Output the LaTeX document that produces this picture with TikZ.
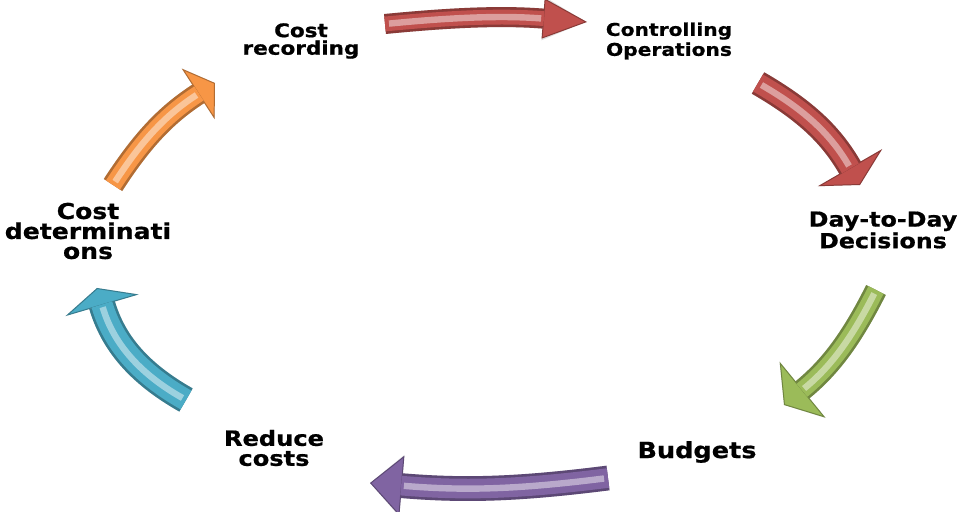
\documentclass[tikz,border=0pt]{standalone}
\usepackage{fontspec}
\newfontfamily\lblfont[FakeStretch=1.15, BoldFeatures={FakeBold=0.8}]{DejaVu Sans}
\usetikzlibrary{arrows.meta}

\definecolor{redarr}{HTML}{C0504D}
\definecolor{greenarr}{HTML}{9BBB59}
\definecolor{purplearr}{HTML}{8064A2}
\definecolor{bluearr}{HTML}{4BACC6}
\definecolor{orangearr}{HTML}{F79646}

\tikzset{
  lbl/.style={align=center, inner sep=0pt,
    font=\lblfont\bfseries\fontsize{#1}{14.2pt}\selectfont},
  band/.style={draw=#1!72!black},
  core/.style={draw=#1},
  shade/.style={draw=black, opacity=0.13, xshift=0.6mm, yshift=-1.5mm},
  shine/.style={line width=1.6mm, white, opacity=0.45, shorten <=1mm}
}

\begin{document}
\begin{tikzpicture}[x=0.025cm, y=0.025cm]
  \useasboundingbox (0,0) rectangle (960,512);

  % % Labels
  \node[lbl=13.3, font=\lblfont\bfseries\fontsize{13.3}{12.5pt}\selectfont] (rec) at (301,471) {Cost\\recording};
  \node[lbl=12.5] (ctrl) at (669,471) {Controlling\\Operations};
  \node[lbl=14.7] (day) at (883,282) {Day-to-Day\\Decisions};
  \node[lbl=15.8] (bud) at (697,60) {Budgets};
  \node[lbl=14.9] (red) at (274,64) {Reduce\\costs};
  \node[lbl=15.5] (det) at (88,281) {Cost\\determinati\\ons};

  % % Arrow ends
  \coordinate (recOut) at (385,488);   \coordinate (ctrlIn) at (587,490);
  \coordinate (ctrlOut) at (758,429);  \coordinate (dayIn) at (860,327);
  \coordinate (dayOut) at (876,222);   \coordinate (budIn) at (784,107);
  \coordinate (budOut) at (608,34);    \coordinate (redIn) at (370,29);
  \coordinate (redOut) at (186,112);   \coordinate (detIn) at (97,224);
  \coordinate (detOut) at (113,327);   \coordinate (recIn) at (215,429);

  % % Cost recording -> Controlling Operations
  \draw[shade, line width=5mm, -{Triangle[length=11mm,width=10mm]}] (recOut) to[bend left=5] (ctrlIn);
  \draw[band=redarr, line width=5mm, -{Triangle[length=11mm,width=10mm,fill=redarr,line width=0.7pt]}] (recOut) to[bend left=5] (ctrlIn);
  \draw[core=redarr, line width=3.7mm, shorten >=10.8mm] (recOut) to[bend left=5] (ctrlIn);
  \draw[shine, shorten >=11.5mm] (recOut) to[bend left=5] (ctrlIn);

  % % Controlling Operations -> Day-to-Day Decisions
  \draw[shade, line width=6.2mm, -{Triangle[length=5mm,width=18.5mm]}] (ctrlOut) to[out=-30, in=120] (dayIn);
  \draw[band=redarr, line width=6.2mm, -{Triangle[length=5mm,width=18.5mm,fill=redarr,line width=0.7pt]}] (ctrlOut) to[out=-30, in=120] (dayIn);
  \draw[core=redarr, line width=4.9mm, shorten >=4.8mm] (ctrlOut) to[out=-30, in=120] (dayIn);
  \draw[shine, shorten >=5.5mm] (ctrlOut) to[out=-30, in=120] (dayIn);

  % % Day-to-Day Decisions -> Budgets
  \draw[shade, line width=5.5mm, -{Triangle[length=6mm,width=18mm]}] (dayOut) to[bend left=12] (budIn);
  \draw[band=greenarr, line width=5.5mm, -{Triangle[length=6mm,width=18mm,fill=greenarr,line width=0.7pt]}] (dayOut) to[bend left=12] (budIn);
  \draw[core=greenarr, line width=4.2mm, shorten >=5.8mm] (dayOut) to[bend left=12] (budIn);
  \draw[shine, shorten >=6.5mm] (dayOut) to[bend left=12] (budIn);

  % % Budgets -> Reduce costs
  \draw[shade, line width=6.2mm, -{Triangle[length=8mm,width=15mm]}] (budOut) to[bend left=6] (redIn);
  \draw[band=purplearr, line width=6.2mm, -{Triangle[length=8mm,width=15mm,fill=purplearr,line width=0.7pt]}] (budOut) to[bend left=6] (redIn);
  \draw[core=purplearr, line width=4.9mm, shorten >=7.8mm] (budOut) to[bend left=6] (redIn);
  \draw[shine, shorten >=8.5mm] (budOut) to[bend left=6] (redIn);

  % % Reduce costs -> Cost determinations
  \draw[shade, line width=6.7mm, -{Triangle[length=4.5mm,width=19mm]}] (redOut) to[bend left=22] (detIn);
  \draw[band=bluearr, line width=6.7mm, -{Triangle[length=4.5mm,width=19mm,fill=bluearr,line width=0.7pt]}] (redOut) to[bend left=22] (detIn);
  \draw[core=bluearr, line width=5.4mm, shorten >=4.3mm] (redOut) to[bend left=22] (detIn);
  \draw[shine, shorten >=5mm] (redOut) to[bend left=22] (detIn);

  % % Cost determinations -> Cost recording
  \draw[shade, line width=5.5mm, -{Triangle[length=5mm,width=15mm]}] (detOut) to[bend left=12] (recIn);
  \draw[band=orangearr, line width=5.5mm, -{Triangle[length=5mm,width=15mm,fill=orangearr,line width=0.7pt]}] (detOut) to[bend left=12] (recIn);
  \draw[core=orangearr, line width=4.2mm, shorten >=4.8mm] (detOut) to[bend left=12] (recIn);
  \draw[shine, shorten >=5.5mm] (detOut) to[bend left=12] (recIn);
\end{tikzpicture}
\end{document}
